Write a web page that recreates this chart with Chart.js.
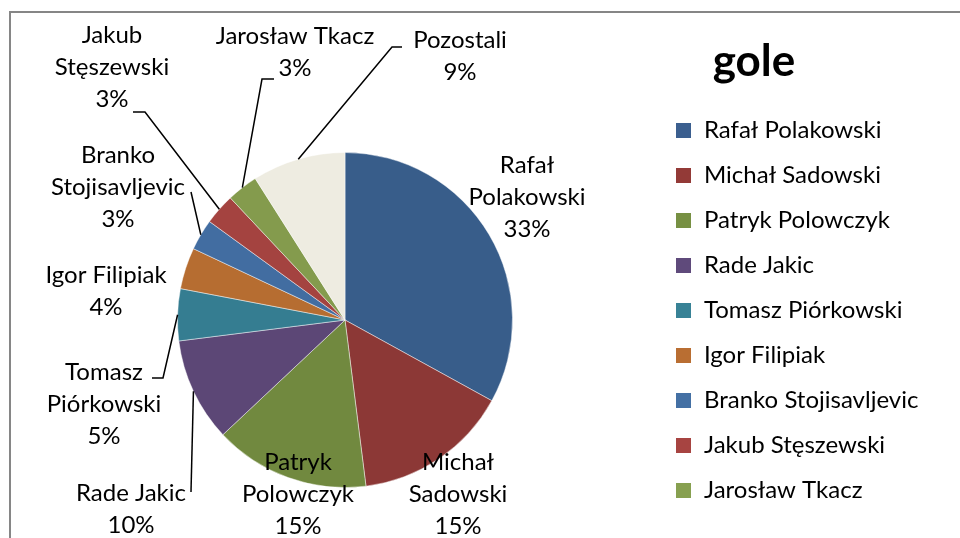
<!DOCTYPE html>
<html lang="pl">
<head>
<meta charset="utf-8">
<title>gole</title>
<script src="https://cdn.jsdelivr.net/npm/chart.js@4.4.1/dist/chart.umd.min.js"></script>
<style>
	body { margin: 0; background: #fff; }
	#wrap { width: 960px; height: 538px; }
</style>
</head>
<body>
<div id="wrap"><canvas id="goleChart" width="960" height="538"></canvas></div>
<script>
const players = [
	"Rafał Polakowski", "Michał Sadowski", "Patryk Polowczyk", "Rade Jakic",
	"Tomasz Piórkowski", "Igor Filipiak", "Branko Stojisavljevic",
	"Jakub Stęszewski", "Jarosław Tkacz", "Pozostali"
];
const goalShare = [33, 15, 15, 10, 5, 4, 3, 3, 3, 9];
const labelNames = [
	["Rafał", "Polakowski"], ["Michał", "Sadowski"], ["Patryk", "Polowczyk"],
	["Rade Jakic"], ["Tomasz", "Piórkowski"], ["Igor Filipiak"],
	["Branko", "Stojisavljevic"], ["Jakub", "Stęszewski"], ["Jarosław Tkacz"], ["Pozostali"]
];
const chartTitle = "gole";
const legendCount = 9;

const sliceColors = [
	"#385d8a", "#8c3836", "#71893f", "#5c4776", "#357d91",
	"#b66d31", "#426da1", "#a44340", "#849b4d", "#eeece1"
];
const legendColors = [
	"#3b5f8f", "#933a37", "#779043", "#5f4a7b", "#388296",
	"#b96e32", "#4470a4", "#a74441", "#87a050", "#eeece1"
];

// layout of the data labels: centre x and y of the first text line
const labelAnchors = [
	[527, 165], [458, 462], [298, 462], [131, 493], [104, 372],
	[106, 275], [118, 155], [112, 35], [295, 36], [460, 40]
];
// leader lines: points from the label towards the slice
const leaderPoints = [
	null, null, null,
	[[191, 492]],
	[[152, 378], [163, 378]],
	null,
	[[191, 192]],
	[[133, 112], [145, 112]],
	[[274, 79], [262, 79]],
	[[402, 47], [392, 47]]
];

const FONT = "Lato, 'Open Sans', sans-serif";
const LINE_H = 32;

const excelLabels = {
	id: "excelLabels",
	beforeDraw(chart) {
		const c = chart.ctx;
		c.save();
		c.fillStyle = "#fff";
		c.fillRect(0, 0, chart.width, chart.height);
		c.strokeStyle = "#868686";
		c.lineWidth = 2;
		c.beginPath();
		c.moveTo(10, 538);
		c.lineTo(10, 12);
		c.lineTo(960, 12);
		c.stroke();
		c.restore();
	},
	afterDraw(chart) {
		const c = chart.ctx;
		const arcs = chart.getDatasetMeta(0).data;
		const total = goalShare.reduce((a, b) => a + b, 0);
		c.save();

		// leader lines
		c.strokeStyle = "#000";
		c.lineWidth = 1.5;
		arcs.forEach((arc, i) => {
			const pts = leaderPoints[i];
			if (!pts) return;
			const p = arc.getProps(["x", "y", "startAngle", "endAngle", "outerRadius"], true);
			const mid = (p.startAngle + p.endAngle) / 2;
			c.beginPath();
			c.moveTo(pts[0][0], pts[0][1]);
			pts.slice(1).forEach(q => c.lineTo(q[0], q[1]));
			c.lineTo(p.x + Math.cos(mid) * p.outerRadius, p.y + Math.sin(mid) * p.outerRadius);
			c.stroke();
		});

		// data labels
		c.fillStyle = "#000";
		c.font = "24px " + FONT;
		c.textAlign = "center";
		c.textBaseline = "middle";
		labelNames.forEach((lines, i) => {
			const pct = Math.round(goalShare[i] / total * 100) + "%";
			const all = lines.concat([pct]);
			const [x, y] = labelAnchors[i];
			all.forEach((t, k) => c.fillText(t, x, y + k * LINE_H));
		});

		// title
		c.font = "bold 44px " + FONT;
		c.textBaseline = "alphabetic";
		c.fillText(chartTitle, 754, 76);

		// legend
		c.font = "24px " + FONT;
		c.textAlign = "left";
		c.textBaseline = "middle";
		for (let i = 0; i < legendCount; i++) {
			const y = 130 + i * 45;
			c.fillStyle = legendColors[i];
			c.fillRect(676, y - 7, 15, 15);
			c.fillStyle = "#000";
			c.fillText(players[i], 704, y);
		}
		c.restore();
	}
};

const ctx = document.getElementById("goleChart");
const goleChart = new Chart(ctx, {
	type: "pie",
	data: {
		labels: players,
		datasets: [
			{
				data: goalShare,
				backgroundColor: sliceColors,
				borderColor: "rgba(255, 255, 255, 0.45)",
				borderWidth: 1
			}
		]
	},
	options: {
		responsive: false,
		animation: false,
		devicePixelRatio: 1,
		layout: { padding: { left: 177, right: 447, top: 152, bottom: 50 } },
		plugins: {
			legend: { display: false },
			tooltip: { enabled: false }
		}
	},
	plugins: [excelLabels]
});
</script>
</body>
</html>
